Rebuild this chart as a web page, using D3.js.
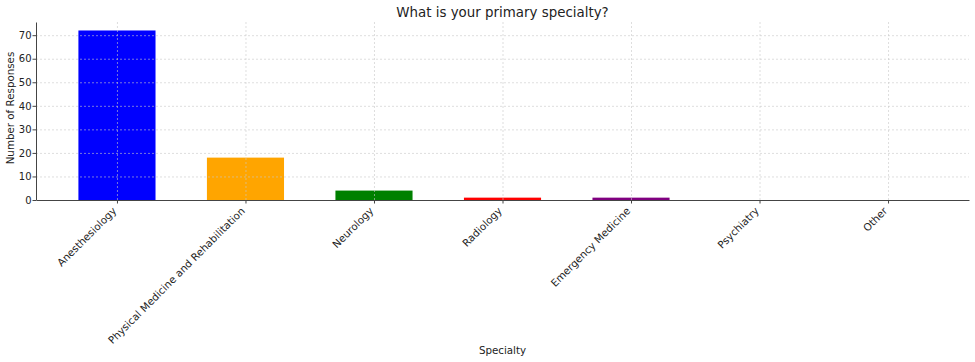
<!DOCTYPE html>
<html>
<head>
<meta charset="utf-8">
<script src="https://cdn.jsdelivr.net/npm/d3@7"></script>
<style>
  body { margin: 0; background: #fff; }
  svg { font-family: "DejaVu Sans", sans-serif; }
  .grid line { stroke: #c8c8c8; stroke-dasharray: 2,2; stroke-width: 0.6; }
  .grid path { display: none; }
</style>
</head>
<body>
<div id="chart"></div>
<script>
const especialidades = ["Anesthesiology", "Physical Medicine and Rehabilitation", "Neurology",
  "Radiology", "Emergency Medicine", "Psychiatry", "Other"];
const respuestas = [72, 18, 4, 1, 1, 0, 0];
const colores = ["blue", "orange", "green", "red", "purple", "brown", "pink"];
const yTicks = [0, 10, 20, 30, 40, 50, 60, 70];

const svgWidth = 975, svgHeight = 362;
const margin = { top: 22, right: 6, bottom: 162, left: 36 };
const width = svgWidth - margin.left - margin.right;
const height = svgHeight - margin.top - margin.bottom;

const svg = d3.select("#chart")
  .append("svg")
  .attr("width", svgWidth)
  .attr("height", svgHeight)
  .append("g")
  .attr("transform", `translate(${margin.left}, ${margin.top})`);

// Escalas (indice numerico con margen, como matplotlib)
const x = d3.scaleLinear()
  .domain([-0.63, especialidades.length - 1 + 0.63])
  .range([0, width]);
const barW = x(0.6) - x(0);

const y = d3.scaleLinear()
  .domain([0, d3.max(respuestas) * 1.05])
  .range([height, 0]);

// Barras
svg.selectAll(".bar")
  .data(respuestas)
  .join("rect")
  .attr("class", "bar")
  .attr("x", (d, i) => x(i) - barW / 2)
  .attr("y", d => y(d))
  .attr("width", barW)
  .attr("height", d => height - y(d))
  .attr("fill", (d, i) => colores[i]);

// Rejilla (por encima de las barras)
svg.append("g")
  .attr("class", "grid")
  .call(d3.axisLeft(y).tickValues(yTicks.slice(1)).tickSize(-width).tickFormat(""));
svg.append("g")
  .attr("class", "grid")
  .call(d3.axisBottom(x).tickValues(d3.range(especialidades.length)).tickSize(height).tickFormat(""));

// Ejes
const ejeY = svg.append("g")
  .call(d3.axisLeft(y).tickValues(yTicks).tickSize(3.5).tickSizeOuter(0).tickPadding(1));
const ejeX = svg.append("g")
  .attr("transform", `translate(0, ${height})`)
  .call(d3.axisBottom(x).tickValues(d3.range(especialidades.length))
    .tickFormat(i => especialidades[i]).tickSize(3.5).tickSizeOuter(0).tickPadding(3));

[ejeY, ejeX].forEach(g => {
  g.select(".domain").attr("stroke", "#444").attr("stroke-width", 1);
  g.selectAll(".tick line").attr("stroke", "#444");
  g.selectAll("text").attr("fill", "#222").style("font-size", "10.3px")
    .style("font-family", "DejaVu Sans");
});
ejeY.selectAll("text").style("font-size", "10px");

ejeX.selectAll("text")
  .attr("text-anchor", "end")
  .attr("dy", "0.35em")
  .attr("y", 0).attr("x", 0)
  .attr("transform", "translate(-3,9) rotate(-45)");

// Titulos
svg.append("text")
  .attr("x", width / 2).attr("y", -5)
  .attr("text-anchor", "middle")
  .style("font-size", "13.4px")
  .attr("fill", "#222")
  .text("What is your primary specialty?");

svg.append("text")
  .attr("x", width / 2).attr("y", height + 154)
  .attr("text-anchor", "middle")
  .style("font-size", "10.3px")
  .attr("fill", "#222")
  .text("Specialty");

svg.append("text")
  .attr("transform", `translate(${-22}, ${height / 2 - 3}) rotate(-90)`)
  .attr("text-anchor", "middle")
  .style("font-size", "10.3px")
  .attr("fill", "#222")
  .text("Number of Responses");
</script>
</body>
</html>
